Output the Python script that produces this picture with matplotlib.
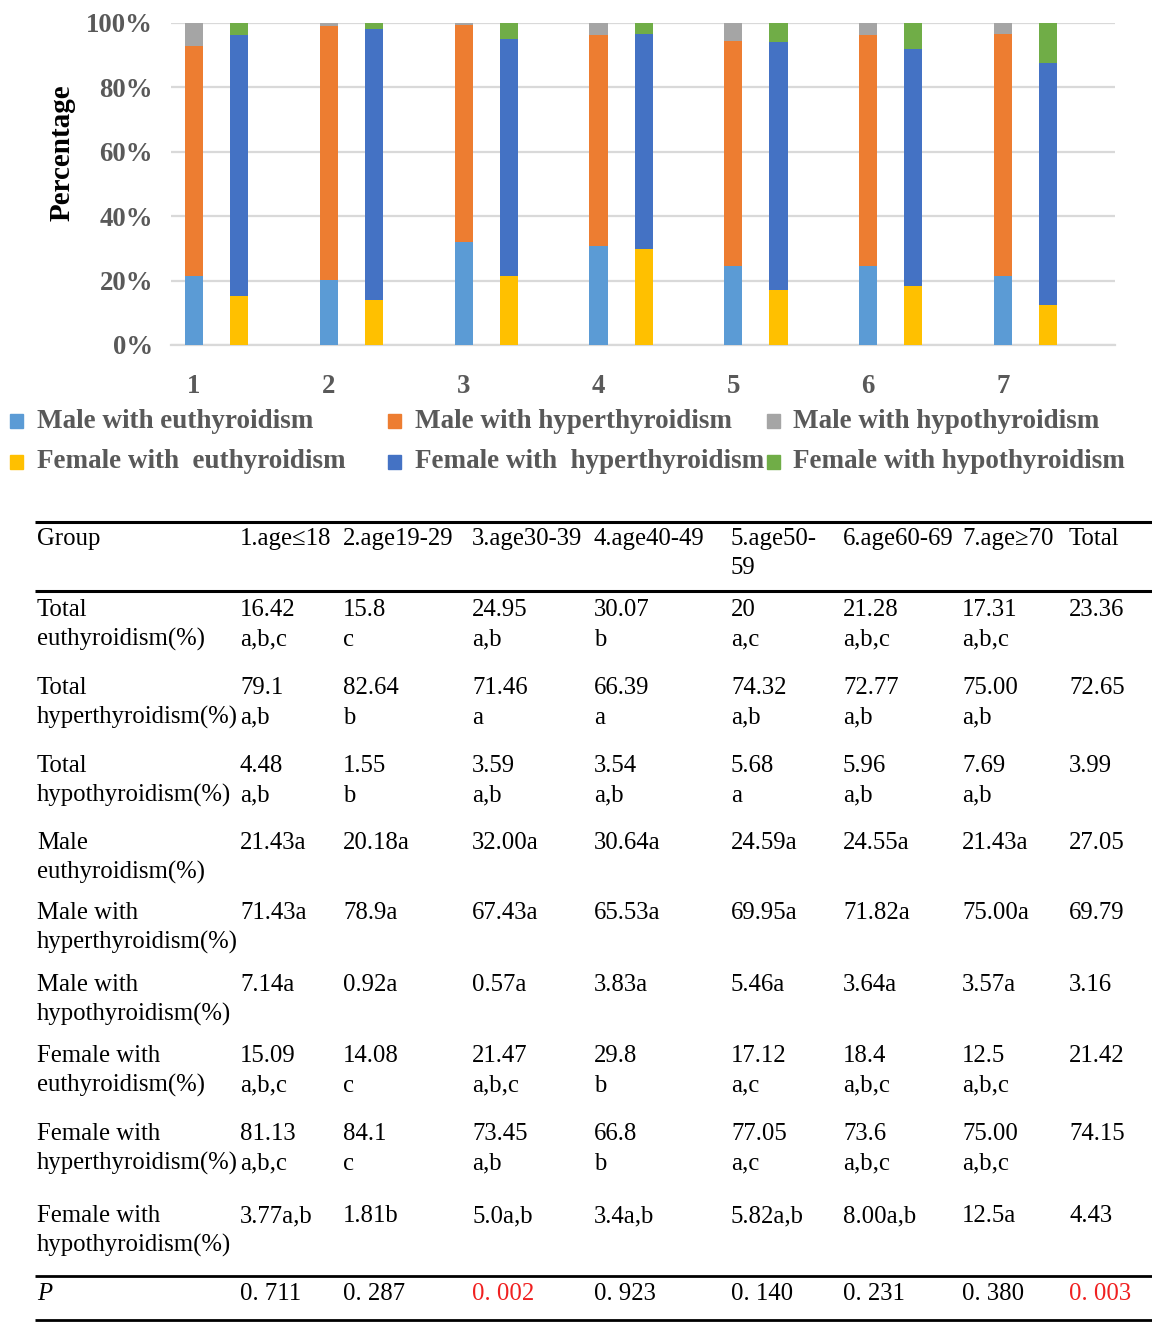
import matplotlib
matplotlib.use("Agg")
import matplotlib.pyplot as plt
import numpy as np
from matplotlib.patches import Rectangle

# ---------------- data ----------------
groups = ["1", "2", "3", "4", "5", "6", "7"]
male_eu = [21.43, 20.18, 32.00, 30.64, 24.59, 24.55, 21.43]
male_hyper = [71.43, 78.90, 67.43, 65.53, 69.95, 71.82, 75.00]
male_hypo = [7.14, 0.92, 0.57, 3.83, 5.46, 3.64, 3.57]
female_eu = [15.09, 14.08, 21.47, 29.80, 17.12, 18.40, 12.50]
female_hyper = [81.13, 84.10, 73.45, 66.80, 77.05, 73.60, 75.00]
female_hypo = [3.77, 1.81, 5.00, 3.40, 5.82, 8.00, 12.50]

series_names = ["Male with euthyroidism", "Male with hyperthyroidism", "Male with hypothyroidism",
                "Female with  euthyroidism", "Female with  hyperthyroidism", "Female with hypothyroidism"]
series_colors = ["#5B9BD5", "#ED7D31", "#A5A5A5", "#FFC000", "#4472C4", "#70AD47"]
yticks = [0, 20, 40, 60, 80, 100]

table_header = ["Group", "1.age\u226418", "2.age19-29", "3.age30-39", "4.age40-49",
                "5.age50-\n59", "6.age60-69", "7.age\u226570", "Total"]
row_labels = ["Total\neuthyroidism(%)", "Total\nhyperthyroidism(%)", "Total\nhypothyroidism(%)",
              "Male\neuthyroidism(%)", "Male with\nhyperthyroidism(%)", "Male with\nhypothyroidism(%)",
              "Female with\neuthyroidism(%)", "Female with\nhyperthyroidism(%)", "Female with\nhypothyroidism(%)"]
row_total_eu = ["16.42\na,b,c", "15.8\nc", "24.95\na,b", "30.07\nb", "20\na,c", "21.28\na,b,c", "17.31\na,b,c", "23.36"]
row_total_hyper = ["79.1\na,b", "82.64\nb", "71.46\na", "66.39\na", "74.32\na,b", "72.77\na,b", "75.00\na,b", "72.65"]
row_total_hypo = ["4.48\na,b", "1.55\nb", "3.59\na,b", "3.54\na,b", "5.68\na", "5.96\na,b", "7.69\na,b", "3.99"]
row_male_eu = ["21.43a", "20.18a", "32.00a", "30.64a", "24.59a", "24.55a", "21.43a", "27.05"]
row_male_hyper = ["71.43a", "78.9a", "67.43a", "65.53a", "69.95a", "71.82a", "75.00a", "69.79"]
row_male_hypo = ["7.14a", "0.92a", "0.57a", "3.83a", "5.46a", "3.64a", "3.57a", "3.16"]
row_female_eu = ["15.09\na,b,c", "14.08\nc", "21.47\na,b,c", "29.8\nb", "17.12\na,c", "18.4\na,b,c", "12.5\na,b,c", "21.42"]
row_female_hyper = ["81.13\na,b,c", "84.1\nc", "73.45\na,b", "66.8\nb", "77.05\na,c", "73.6\na,b,c", "75.00\na,b,c", "74.15"]
row_female_hypo = ["3.77a,b", "1.81b", "5.0a,b", "3.4a,b", "5.82a,b", "8.00a,b", "12.5a", "4.43"]
p_label = "P"
p_values = ["0. 711", "0. 287", "0. 002", "0. 923", "0. 140", "0. 231", "0. 380", "0. 003"]
p_significant = [False, False, True, False, False, False, False, True]

table_rows = [row_total_eu, row_total_hyper, row_total_hypo, row_male_eu, row_male_hyper,
              row_male_hypo, row_female_eu, row_female_hyper, row_female_hypo]

# ---------------- figure ----------------
W, H = 1152, 1323
fig = plt.figure(figsize=(W / 100, H / 100), dpi=100)
SERIF = ["Liberation Serif", "DejaVu Serif"]
GRAY_TXT = "#595959"

def fx(px):
    return px / W

def fy(py):
    return 1 - py / H

ax = fig.add_axes([fx(171), fy(345), fx(1115) - fx(171), (345 - 23) / H])
x = np.arange(len(groups))
male_x = x - 0.33
female_x = x + 0.005
bw = 0.135

b = np.zeros(len(groups))
for vals, col in zip([male_eu, male_hyper, male_hypo], series_colors[:3]):
    ax.bar(male_x, vals, bw, bottom=b, color=col, zorder=3)
    b = b + np.array(vals)
b = np.zeros(len(groups))
for vals, col in zip([female_eu, female_hyper, female_hypo], series_colors[3:]):
    ax.bar(female_x, vals, bw, bottom=b, color=col, zorder=3)
    b = b + np.array(vals)

ax.set_xlim(-0.5, len(groups) - 0.5)
ax.set_ylim(0, 100)
ax.set_yticks(yticks)
ax.set_yticklabels([f"{v}%" for v in yticks], fontfamily=SERIF, fontweight="bold",
                   fontsize=19.3, color=GRAY_TXT)
ax.set_xticks(male_x)
ax.set_xticklabels(groups, fontfamily=SERIF, fontweight="bold", fontsize=19.3, color=GRAY_TXT)
ax.tick_params(axis="both", length=0)
ax.tick_params(axis="y", pad=13)
ax.tick_params(axis="x", pad=21)
ax.grid(axis="y", color="#D9D9D9", linewidth=1.6, zorder=0)
for s in ["top", "right", "left"]:
    ax.spines[s].set_visible(False)
ax.spines["bottom"].set_color("#D9D9D9")
ax.spines["bottom"].set_linewidth(1.6)
ax.set_ylabel("Percentage", fontfamily=SERIF, fontweight="bold", fontsize=21, color="black")
ax.yaxis.set_label_coords((76 - 171) / (1115 - 171), (345 - 153) / (345 - 23))

# ---------------- legend ----------------
leg_marker_x = [10, 388, 767]
leg_text_x = [37, 415, 793]
leg_row_y = [421, 462]
for i, (name, col) in enumerate(zip(series_names, series_colors)):
    r, c = divmod(i, 3)
    fig.add_artist(Rectangle((fx(leg_marker_x[c]), fy(leg_row_y[r] + 7)), 13 / W, 14 / H,
                             transform=fig.transFigure, color=col))
    fig.text(fx(leg_text_x[c]), fy(leg_row_y[r]), name, fontfamily=SERIF, fontweight="bold",
             fontsize=19.5, color=GRAY_TXT, ha="left", va="center")

# ---------------- table ----------------
tax = fig.add_axes([0, 0, 1, 1])
tax.set_xlim(0, W)
tax.set_ylim(H, 0)
tax.axis("off")

col_x = [37, 240, 343, 472, 594, 731, 843, 962, 1069]
row_y = [610, 688, 766, 843, 913, 985, 1056, 1134, 1216]
line_gap = 29.5
TFS = 17.8

def put(xp, yp, s, color="black", style="normal"):
    for k, line in enumerate(s.split("\n")):
        tax.text(xp, yp + k * line_gap, line, fontfamily=SERIF, fontsize=TFS, color=color,
                 ha="left", va="center", fontstyle=style)

for cx, h in zip(col_x, table_header):
    put(cx, 539, h)

for ry, lab, vals in zip(row_y, row_labels, table_rows):
    put(col_x[0], ry, lab)
    for cx, v in zip(col_x[1:], vals):
        put(cx, ry, v)

put(col_x[0], 1294, p_label, style="italic")
for cx, v, sig in zip(col_x[1:], p_values, p_significant):
    put(cx, 1294, v, color="#F02020" if sig else "black")

for yl, lw in [(521.5, 2.2), (591, 2.2), (1275.5, 2.0), (1320, 2.0)]:
    tax.plot([34.5, W], [yl, yl], color="black", linewidth=lw, solid_capstyle="butt")

fig.savefig("out.png", dpi=100)
